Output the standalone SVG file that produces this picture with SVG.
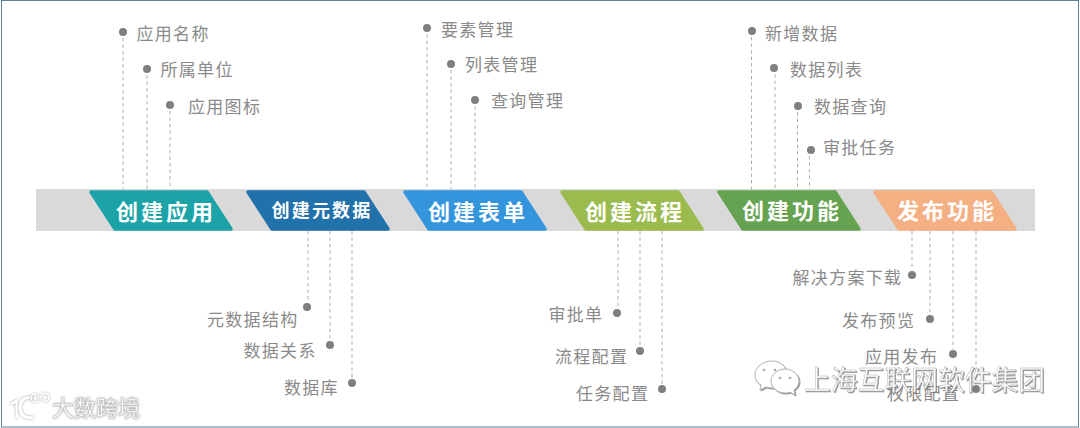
<svg xmlns="http://www.w3.org/2000/svg" width="1080" height="428" viewBox="0 0 1080 428">
<style>
.lab{font-family:"Noto Sans CJK SC","Noto Sans",sans-serif;font-size:17px;fill:#8a8a8a;letter-spacing:1.3px}
.tt{font-family:"Noto Sans CJK SC","Noto Sans",sans-serif;font-size:22px;font-weight:700;fill:#fff;letter-spacing:3px;text-anchor:middle}
.tt2{font-size:18px;letter-spacing:2.2px}
.dot{fill:#7f7f7f}
.con line{stroke:#b0b0b0;stroke-width:1;stroke-dasharray:3.5 3}
.wm{font-family:"Noto Sans CJK SC","Noto Sans",sans-serif;fill:#fff;stroke:#b4b4b4;stroke-width:.5;filter:url(#sh)}
.wm2{stroke:#c8c8c8;filter:url(#sh2)}
.ic{fill:#fff;stroke:#b0b0b0;stroke-width:1;filter:url(#sh)}
.lg{fill:none;stroke:#fff;filter:url(#sh2)}
</style>
<defs>
<path id="para" d="M2 3H118L142 40H26Z" stroke-width="3.500" stroke-linejoin="round"/>
<filter id="sh" x="-10%" y="-20%" width="120%" height="140%"><feDropShadow dx="1" dy="1" stdDeviation=".5" flood-color="#777" flood-opacity=".8"/></filter>
<filter id="sh2" x="-20%" y="-20%" width="140%" height="140%"><feDropShadow dx="0" dy="0" stdDeviation="1" flood-color="#888" flood-opacity=".9"/></filter>
</defs>
<rect width="1080" height="428" fill="#fff"/>
<rect x="1.500" y="0.500" width="1077" height="426.500" fill="none" stroke="#5f829f" stroke-width="1"/>
<rect id="band" x="36" y="189" width="999" height="42" fill="#d9d9d9"/>
<g id="connectors" class="con">
<line x1="123" y1="38" x2="123" y2="189"/><line x1="147" y1="75" x2="147" y2="189"/><line x1="170" y1="111" x2="170" y2="189"/>
<line x1="427" y1="34" x2="427" y2="189"/><line x1="451" y1="70" x2="451" y2="189"/><line x1="475" y1="106" x2="475" y2="189"/>
<line x1="751.500" y1="37" x2="751.500" y2="189"/><line x1="775" y1="74" x2="775" y2="189"/><line x1="797.500" y1="112" x2="797.500" y2="189"/><line x1="809.500" y1="156" x2="809.500" y2="189"/>
<line x1="308" y1="231" x2="308" y2="302"/><line x1="330" y1="231" x2="330" y2="340"/><line x1="352" y1="231" x2="352" y2="378"/>
<line x1="618" y1="231" x2="618" y2="308"/><line x1="640" y1="231" x2="640" y2="346"/><line x1="662" y1="231" x2="662" y2="384"/>
<line x1="912" y1="231" x2="912" y2="270"/><line x1="930" y1="231" x2="930" y2="314"/><line x1="953" y1="231" x2="953" y2="349"/><line x1="976" y1="231" x2="976" y2="384"/>
</g>
<g id="step1"><use href="#para" x="89" y="189" fill="#1ba3a8" stroke="#1ba3a8"/><text class="tt" x="166" y="220">创建应用</text></g>
<g id="step2"><use href="#para" x="246" y="189" fill="#2171ab" stroke="#2171ab"/><text class="tt tt2" x="322" y="217">创建元数据</text></g>
<g id="step3"><use href="#para" x="403" y="189" fill="#3595dc" stroke="#3595dc"/><text class="tt" x="478" y="220">创建表单</text></g>
<g id="step4"><use href="#para" x="560" y="189" fill="#9bbb4f" stroke="#9bbb4f"/><text class="tt" x="635" y="220">创建流程</text></g>
<g id="step5"><use href="#para" x="717" y="189" fill="#66a350" stroke="#66a350"/><text class="tt" x="792" y="219">创建功能</text></g>
<g id="step6"><use href="#para" x="873" y="189" fill="#f4af83" stroke="#f4af83"/><text class="tt" x="947" y="219">发布功能</text></g>
<g id="i1"><circle class="dot" cx="123" cy="32" r="4"/><text class="lab" x="136.500" y="40">应用名称</text></g>
<g id="i2"><circle class="dot" cx="147" cy="69" r="4"/><text class="lab" x="160.500" y="76">所属单位</text></g>
<g id="i3"><circle class="dot" cx="170" cy="105" r="4"/><text class="lab" x="188" y="112.500">应用图标</text></g>
<g id="i4"><circle class="dot" cx="427" cy="28" r="4"/><text class="lab" x="441" y="35.500">要素管理</text></g>
<g id="i5"><circle class="dot" cx="451" cy="64" r="4"/><text class="lab" x="465" y="71">列表管理</text></g>
<g id="i6"><circle class="dot" cx="475" cy="100" r="4"/><text class="lab" x="491" y="107">查询管理</text></g>
<g id="i7"><circle class="dot" cx="752" cy="31" r="4"/><text class="lab" x="765" y="39.500">新增数据</text></g>
<g id="i8"><circle class="dot" cx="774" cy="68" r="4"/><text class="lab" x="790" y="75.500">数据列表</text></g>
<g id="i9"><circle class="dot" cx="798" cy="106" r="4"/><text class="lab" x="814" y="112.500">数据查询</text></g>
<g id="i10"><circle class="dot" cx="811" cy="150" r="4"/><text class="lab" x="823" y="153.500">审批任务</text></g>
<g id="i11"><circle class="dot" cx="307" cy="307" r="4"/><text class="lab" x="207" y="325.500">元数据结构</text></g>
<g id="i12"><circle class="dot" cx="330" cy="345" r="4"/><text class="lab" x="243.500" y="356.500">数据关系</text></g>
<g id="i13"><circle class="dot" cx="352" cy="383" r="4"/><text class="lab" x="284" y="393.500">数据库</text></g>
<g id="i14"><circle class="dot" cx="617" cy="313" r="4"/><text class="lab" x="548.500" y="320.500">审批单</text></g>
<g id="i15"><circle class="dot" cx="640" cy="351" r="4"/><text class="lab" x="555" y="362.500">流程配置</text></g>
<g id="i16"><circle class="dot" cx="662" cy="389" r="4"/><text class="lab" x="576" y="399.500">任务配置</text></g>
<g id="i17"><circle class="dot" cx="912" cy="275" r="4"/><text class="lab" x="792.500" y="283.500">解决方案下载</text></g>
<g id="i18"><circle class="dot" cx="930" cy="319" r="4"/><text class="lab" x="842" y="326.500">发布预览</text></g>
<g id="i19"><circle class="dot" cx="953" cy="354" r="4"/><text class="lab" x="865" y="363">应用发布</text></g>
<g id="i20"><circle class="dot" cx="976" cy="389" r="4"/><text class="lab" x="887" y="399.500">权限配置</text></g>
<g id="wm1">
<path class="ic" d="M772 361c-9 0-17 6-17 14 0 4 2 8 6 10l-1 5 6-3c2 .6 4 1 6 1 8 0 15-6 15-14 0-7-6-13-15-13z"/>
<path class="ic" d="M785 369c-8 0-14 6-14 12s6 12 14 12c2 0 3 0 5-1l5 3-1-5c3-2 5-5 5-9 0-6-6-12-14-12z"/>
<circle cx="764" cy="370" r="1.300" fill="#aaa"/><circle cx="775" cy="370" r="1.300" fill="#aaa"/><circle cx="780" cy="378" r="1.300" fill="#aaa"/><circle cx="790" cy="378" r="1.300" fill="#aaa"/>
<text class="wm" x="804" y="390" font-size="26.800">上海互联网软件集团</text>
</g>
<g id="wm2">
<path class="lg" stroke-width="3" d="M11 404l6-3v17"/>
<path class="lg" stroke-width="3" d="M33 399c-7-4-13 1-13 8.500s6 12 13 9.500"/>
<circle class="lg" stroke-width="1.500" cx="35" cy="398" r="4"/>
<circle class="lg" stroke-width="1.500" cx="45" cy="397.500" r="4"/>
<text class="wm wm2" x="52" y="416" font-size="22">大数跨境</text>
</g>
</svg>
